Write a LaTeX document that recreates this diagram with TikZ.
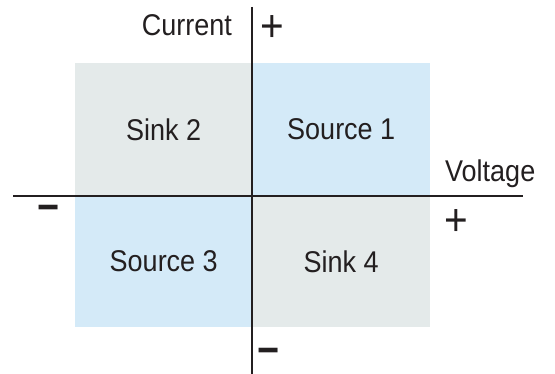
\documentclass[tikz,border=0pt]{standalone}
\usepackage{fontspec}
\setmainfont[FakeStretch=0.9]{Liberation Sans}
\definecolor{grayq}{HTML}{E4EAEA}
\definecolor{blueq}{HTML}{D4EAF8}
\definecolor{ink}{HTML}{231F20}
\begin{document}
\begin{tikzpicture}[x=1pt,y=-1pt,
  quad/.style={inner sep=0pt,outer sep=0pt,minimum width=177.5pt,minimum height=132pt,text=ink,font=\fontsize{30}{36}\selectfont},
  lbl/.style={inner sep=0pt,text=ink,font=\fontsize{30}{36}\selectfont},
  sgn/.style={inner sep=0pt,text=ink,font=\fontsize{45}{48}\selectfont},
  msgn/.style={inner sep=0pt,text=ink,font=\fontsize{42}{46}\selectfont\bfseries},
  axis/.style={draw=ink,line width=1.3pt}]
\useasboundingbox (0,0) rectangle (555,374);
\node[quad,fill=grayq] (q2) at (163.75,129.5) {Sink 2};
\node[quad,fill=blueq] (q1) at (341.25,129.5) {Source 1};
\node[quad,fill=blueq] (q3) at (163.75,261.5) {Source 3};
\node[quad,fill=grayq] (q4) at (341.25,261.5) {Sink 4};
\coordinate (vt) at (252,7);
\coordinate (vb) at (252,374);
\coordinate (hl) at (13,196);
\coordinate (hr) at (523,196);
\draw[axis] (vt) -- (vb);
\draw[axis] (hl) -- (hr);
\node[lbl,anchor=base east] (cur) at (232,36) {Current};
\node[lbl,anchor=base west] (vol) at (445,182) {Voltage};
\node[sgn] (pt) at (272.5,28.5) {+};
\node[sgn] (pr) at (456,222.5) {+};
\node[msgn] (ml) at (49,213) {−};
\node[msgn] (mb) at (269,356.5) {−};
\end{tikzpicture}
\end{document}
